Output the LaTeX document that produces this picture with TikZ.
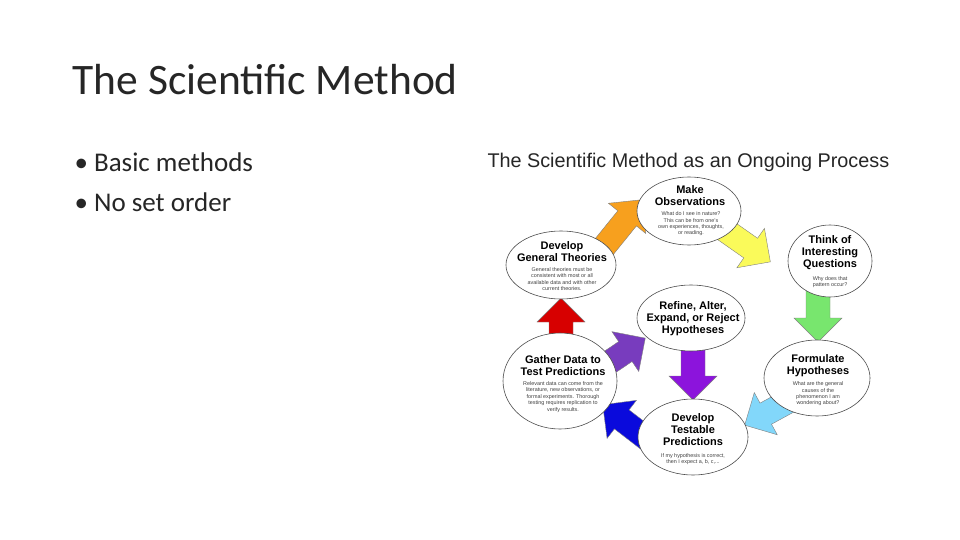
\documentclass[tikz,border=0pt]{standalone}
\usepackage{fontspec}
\setmainfont{Liberation Sans}
\newfontfamily\slidefont{Carlito}
\usetikzlibrary{shapes.geometric}
\begin{document}
\begin{tikzpicture}[x=1pt,y=-1pt,
  bubble/.style={draw=black!70,fill=white,ellipse,line width=0.6pt},
  ttl/.style={font=\bfseries\fontsize{11}{12}\selectfont,align=center},
  sub/.style={font=\fontsize{5.4}{6.4}\selectfont,align=center,text=black!75}]
\fill[white] (0,0) rectangle (960,540);
\useasboundingbox (0,0) rectangle (960,540);
\node[anchor=west,font=\slidefont\fontsize{43.5}{46}\selectfont,text=black!85] (title) at (69,80) {The Scientific Method};
\node[anchor=west,font=\slidefont\fontsize{27}{30}\selectfont,text=black!85] (b1) at (71,162) {\textbullet\ Basic methods};
\node[anchor=west,font=\slidefont\fontsize{27}{30}\selectfont,text=black!85] (b2) at (71,202) {\textbullet\ No set order};
\node[anchor=west,font=\fontsize{19.8}{21}\selectfont,text=black!85] (h) at (484,162) {The Scientific Method as an Ongoing Process};
\newcommand\barrow[4]{\begin{scope}[shift={(#2)},rotate=#3]
 \filldraw[fill=#1,draw=black!50,line width=0.4pt] (0,-12) -- (#4-24,-12) -- (#4-24,-24) -- (#4,0) -- (#4-24,24) -- (#4-24,12) -- (0,12) -- cycle;
 \end{scope}}
\definecolor{aor}{RGB}{247,160,30}
\definecolor{aye}{RGB}{250,250,90}
\definecolor{agr}{RGB}{120,230,110}
\definecolor{alb}{RGB}{130,215,250}
\definecolor{abl}{RGB}{10,10,220}
\definecolor{are}{RGB}{215,0,0}
\definecolor{apu}{RGB}{120,60,190}
\definecolor{avi}{RGB}{140,20,220}
\barrow{aor}{595,258}{51}{75}
\barrow{aye}{722,228}{-35}{59}
\barrow{agr}{818,290}{-90}{52}
\barrow{alb}{800,395}{208.6}{63}
\barrow{abl}{655,445}{142.4}{66}
\barrow{are}{561,335}{90}{37}
\barrow{apu}{598,370}{34}{57}
\barrow{avi}{693,345}{-90}{55}
\node[bubble,minimum width=104pt,minimum height=68pt] (obs) at (689,211) {};
\node[ttl] at (690,196) {Make\\Observations};
\node[sub] at (691,224) {What do I see in nature?\\This can be from one's\\own experiences, thoughts,\\or reading.};
\node[bubble,minimum width=84pt,minimum height=72pt] (q) at (830,261) {};
\node[ttl] at (830,253) {Think of\\Interesting\\Questions};
\node[sub] at (830,282) {Why does that\\pattern occur?};
\node[bubble,minimum width=110pt,minimum height=68pt] (gt) at (561,265) {};
\node[ttl] at (562,252) {Develop\\General Theories};
\node[sub] at (562,279) {General theories must be\\consistent with most or all\\available data and with other\\current theories.};
\node[bubble,minimum width=108pt,minimum height=66pt] (rf) at (691,318) {};
\node[ttl] at (693,319) {Refine, Alter,\\Expand, or Reject\\Hypotheses};
\node[bubble,minimum width=106pt,minimum height=76pt] (fh) at (817,378) {};
\node[ttl] at (818,366) {Formulate\\Hypotheses};
\node[sub] at (818,394) {What are the general\\causes of the\\phenomenon I am\\wondering about?};
\node[bubble,minimum width=114pt,minimum height=96pt] (gd) at (560,381) {};
\node[ttl] at (563,366) {Gather Data to\\Test Predictions};
\node[sub] at (563,397) {Relevant data can come from the\\literature, new observations, or\\formal experiments.  Thorough\\testing requires replication to\\verify results.};
\node[bubble,minimum width=110pt,minimum height=76pt] (tp) at (693,437) {};
\node[ttl] at (693,430) {Develop\\Testable\\Predictions};
\node[sub] at (693,459) {If my hypothesis is correct,\\then I expect a, b, c,...};
\end{tikzpicture}
\end{document}
